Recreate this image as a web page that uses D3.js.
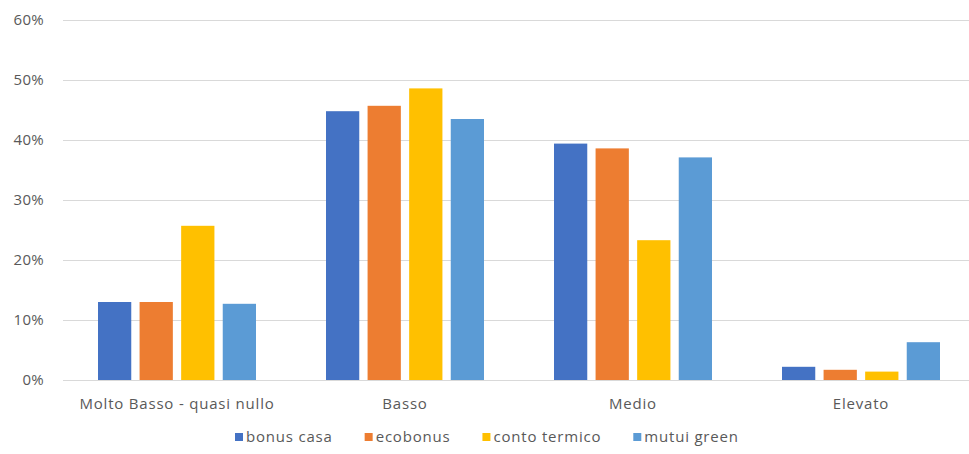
<!DOCTYPE html>
<html>
<head>
<meta charset="utf-8">
<script src="https://cdn.jsdelivr.net/npm/d3@7"></script>
<style>
  html, body { margin: 0; padding: 0; background: #fff; }
  svg { display: block; }
  text { font-family: "Open Sans", Lato, sans-serif; fill: #595959; }
</style>
</head>
<body>
<svg id="chart" width="969" height="454"></svg>
<script>
// Categories, series and values
const categories = ["Molto Basso - quasi nullo", "Basso", "Medio", "Elevato"];
const seriesNames = ["bonus casa", "ecobonus", "conto termico", "mutui green"];
const bonusCasa    = [13.0, 44.8, 39.4, 2.2];
const ecobonus     = [13.0, 45.7, 38.6, 1.7];
const contoTermico = [25.7, 48.6, 23.3, 1.4];
const mutuiGreen   = [12.7, 43.5, 37.1, 6.3];
const yTicks = [0, 10, 20, 30, 40, 50, 60];
const colors = ["#4472C4", "#ED7D31", "#FFC000", "#5B9BD5"];

const seriesValues = [bonusCasa, ecobonus, contoTermico, mutuiGreen];

const svg = d3.select("#chart");
const W = 969, H = 454;
const plotLeft = 63, plotRight = 975, plotTop = 20, plotBottom = 380;
const groupWidth = 158;
const fontFamily = "'Open Sans', Lato, sans-serif";

const x0 = d3.scaleBand().domain(categories).range([plotLeft, plotRight]).paddingInner(0).paddingOuter(0);
const x1 = d3.scaleBand().domain(seriesNames).range([0, groupWidth]).paddingInner(0.2).paddingOuter(0);
const y = d3.scaleLinear().domain([0, 60]).range([plotBottom, plotTop]);

// Gridlines
svg.append("g")
  .selectAll("line")
  .data(yTicks)
  .join("line")
  .attr("x1", plotLeft).attr("x2", W)
  .attr("y1", d => Math.round(y(d)) + 0.5)
  .attr("y2", d => Math.round(y(d)) + 0.5)
  .attr("stroke", "#d9d9d9")
  .attr("stroke-width", 1);

// Y axis labels
const yAxis = d3.axisLeft(y).tickValues(yTicks).tickFormat(d => d + "%").tickSize(0).tickPadding(0);
const yg = svg.append("g").attr("transform", "translate(44,0)").call(yAxis);
yg.select(".domain").remove();
yg.selectAll("text")
  .style("font-size", "15px")
  .style("letter-spacing", "0.3px")
  .attr("fill", "#595959")
  .attr("font-family", fontFamily);

// Bars
const groups = svg.append("g")
  .selectAll("g")
  .data(categories)
  .join("g")
  .attr("transform", d => `translate(${x0(d) + (x0.bandwidth() - groupWidth) / 2},0)`);

groups.selectAll("rect")
  .data((c, i) => seriesNames.map((s, j) => ({ s, v: seriesValues[j][i], j })))
  .join("rect")
  .attr("x", d => x1(d.s))
  .attr("width", x1.bandwidth())
  .attr("y", d => y(d.v))
  .attr("height", d => y(0) - y(d.v))
  .attr("fill", d => colors[d.j]);

// Baseline
svg.append("line")
  .attr("x1", plotLeft).attr("x2", W)
  .attr("y1", y(0) + 0.5).attr("y2", y(0) + 0.5)
  .attr("stroke", "#d9d9d9");

// Category labels
const xAxis = d3.axisBottom(x0).tickSize(0).tickPadding(0);
const xg = svg.append("g").attr("transform", `translate(0,${plotBottom})`).call(xAxis);
xg.select(".domain").remove();
xg.selectAll("text")
  .attr("y", 29).attr("dy", null)
  .style("font-size", "15px")
  .style("letter-spacing", "0.8px")
  .attr("fill", "#595959")
  .attr("font-family", fontFamily);

// Legend
const legend = svg.append("g").attr("transform", "translate(0,437)");
const items = legend.selectAll("g").data(seriesNames).join("g");
items.append("rect").attr("width", 8).attr("height", 8).attr("y", -4)
  .attr("fill", (d, i) => colors[i]);
items.append("text").attr("x", 11).attr("dy", "0.36em")
  .style("font-size", "15px")
  .style("letter-spacing", "0.8px")
  .text(d => d);
const widths = [];
items.each(function () {
  widths.push(11 + d3.select(this).select("text").node().getComputedTextLength());
});
const gap = 32;
let legendX = 235;
items.attr("transform", (d, i) => {
  const t = `translate(${legendX},0)`;
  legendX += widths[i] + gap;
  return t;
});
</script>
</body>
</html>
